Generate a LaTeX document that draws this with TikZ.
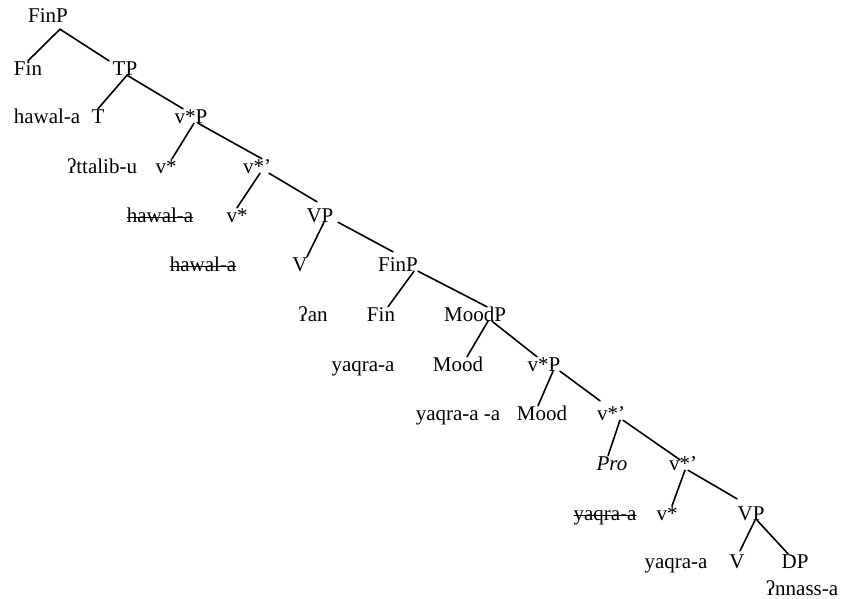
\documentclass[tikz,border=0pt]{standalone}
\usepackage{fontspec}
\setmainfont{Liberation Serif}

\begin{document}
\begin{tikzpicture}[x=1pt, y=-1pt, line join=round, line cap=round,
    font=\fontsize{21}{25}\selectfont,
    lbl/.style={inner sep=0pt, text height=14pt, text depth=0pt},
    struck/.style={lbl, path picture={\draw[line width=1pt]
        ([yshift=-2pt]path picture bounding box.west) --
        ([yshift=-2pt]path picture bounding box.east);}},
    branch/.style={line width=1.6pt, black}]
    \useasboundingbox (0,0) rectangle (845,598);

    % Nhãn của cây
    \node[lbl] (finpA) at (48,15) {FinP};
    \node[lbl] (finA) at (28,68) {Fin};
    \node[lbl] (tpA) at (125,68) {TP};
    \node[lbl] (hawalA) at (47,116) {hawal-a};
    \node[lbl] (tA) at (98,116) {T};
    \node[lbl] (vpstarA) at (191,116) {v*P};
    \node[lbl] (ttalib) at (102,166) {ʔttalib-u};
    \node[lbl] (vstarA) at (166,166) {v*};
    \node[lbl] (vbarA) at (257,166) {v*’};
    \node[struck] (hawalB) at (160,215) {hawal-a};
    \node[lbl] (vstarB) at (237,215) {v*};
    \node[lbl] (vpA) at (320,215) {VP};
    \node[struck] (hawalC) at (203,264) {hawal-a};
    \node[lbl] (vA) at (300,264) {V};
    \node[lbl] (finpB) at (398,264) {FinP};
    \node[lbl] (an) at (313,314) {ʔan};
    \node[lbl] (finB) at (381,314) {Fin};
    \node[lbl] (moodp) at (475,314) {MoodP};
    \node[lbl] (yaqraA) at (363,364) {yaqra-a};
    \node[lbl] (moodA) at (458,364) {Mood};
    \node[lbl] (vpstarB) at (544,364) {v*P};
    \node[lbl] (yaqraB) at (458,413) {yaqra-a -a};
    \node[lbl] (moodB) at (542,413) {Mood};
    \node[lbl] (vbarB) at (611,413) {v*’};
    \node[lbl] (pro) at (612,463) {\textit{Pro}};
    \node[lbl] (vbarC) at (683,463) {v*’};
    \node[struck] (yaqraC) at (605,513) {yaqra-a};
    \node[lbl] (vstarC) at (667,513) {v*};
    \node[lbl] (vpB) at (751,513) {VP};
    \node[lbl] (yaqraD) at (676,561) {yaqra-a};
    \node[lbl] (vB) at (737,561) {V};
    \node[lbl] (dp) at (795,561) {DP};
    \node[lbl] (nnass) at (802,588) {ʔnnass-a};

    % Các nhánh
    \draw[branch] ([shift={(12pt,-7pt)}]finpA.south) -- (finA.north);
    \draw[branch] ([shift={(12pt,-7pt)}]finpA.south) -- ([xshift=-16pt]tpA.north);
    \draw[branch] ([xshift=2pt]tpA.south) -- (tA.north);
    \draw[branch] ([xshift=2pt]tpA.south) -- ([xshift=-8pt]vpstarA.north);
    \draw[branch] ([xshift=3pt]vpstarA.south) -- ([xshift=6pt]vstarA.north);
    \draw[branch] ([xshift=7pt]vpstarA.south) -- ([xshift=5pt]vbarA.north);
    \draw[branch] ([xshift=3pt]vbarA.south) -- (vstarB.north);
    \draw[branch] ([xshift=12pt]vbarA.south) -- ([shift={(-3pt,6pt)}]vpA.north);
    \draw[branch] ([xshift=4pt]vpA.south) -- ([xshift=7pt]vA.north);
    \draw[branch] ([xshift=18pt]vpA.south) -- ([shift={(-5pt,5pt)}]finpB.north);
    \draw[branch] ([xshift=16pt]finpB.south) -- ([xshift=7pt]finB.north);
    \draw[branch] ([xshift=20pt]finpB.south) -- ([xshift=12pt]moodp.north);
    \draw[branch] ([xshift=13pt]moodp.south) -- ([xshift=9pt]moodA.north);
    \draw[branch] ([xshift=17pt]moodp.south) -- ([xshift=-7pt]vpstarB.north);
    \draw[branch] ([xshift=9pt]vpstarB.south) -- ([xshift=-4pt]moodB.north);
    \draw[branch] ([xshift=16pt]vpstarB.south) -- ([shift={(-11pt,5pt)}]vbarB.north);
    \draw[branch] ([xshift=9pt]vbarB.south) -- ([xshift=-4pt]pro.north);
    \draw[branch] ([xshift=12pt]vbarB.south) -- ([shift={(-3pt,-4pt)}]vbarC.north);
    \draw[branch] ([xshift=2pt]vbarC.south) -- ([xshift=5pt]vstarC.north);
    \draw[branch] ([xshift=5pt]vbarC.south) -- ([shift={(-14pt,7pt)}]vpB.north);
    \draw[branch] ([xshift=4pt]vpB.south) -- ([shift={(3pt,3pt)}]vB.north);
    \draw[branch] ([xshift=6pt]vpB.south) -- ([shift={(-7pt,0pt)}]dp.north);
\end{tikzpicture}
\end{document}
